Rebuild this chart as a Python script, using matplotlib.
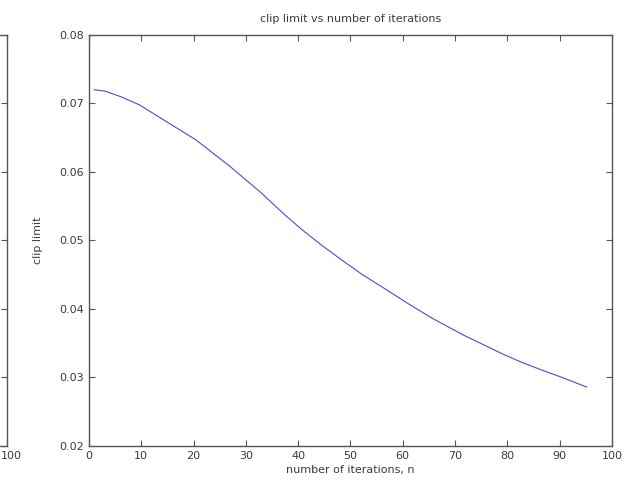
import matplotlib
matplotlib.use("Agg")
import matplotlib.pyplot as plt
from matplotlib.transforms import ScaledTranslation

# clip limit sampled over the iteration count
iterations = [1, 3, 6, 9.6, 15.3, 20.4, 26.8, 32.7, 37.5, 41, 44.5, 48.6, 52.5,
              56.9, 61, 65.5, 71.6, 79.2, 82.5, 86.2, 90.5, 95.2]
clip_limit = [0.0720, 0.0718, 0.0710, 0.0698, 0.0671, 0.0647, 0.0609, 0.0571, 0.0537,
              0.0514, 0.0493, 0.0470, 0.0449, 0.0428, 0.0408, 0.0387, 0.0362, 0.0334,
              0.0323, 0.0312, 0.0300, 0.0286]

x_ticks = [0, 10, 20, 30, 40, 50, 60, 70, 80, 90, 100]
y_ticks = [0.02, 0.03, 0.04, 0.05, 0.06, 0.07, 0.08]

plt.rcParams["font.family"] = ["DejaVu Sans"]
text_color = "#3a3a3a"
spine_color = "#555555"

fig = plt.figure(figsize=(6.36, 4.93), dpi=100)


def style_axes(ax):
    for sp in ax.spines.values():
        sp.set_color(spine_color)
        sp.set_linewidth(1.0)
    ax.tick_params(direction="in", length=4, width=0.8, color=spine_color,
                   labelsize=8, labelcolor=text_color, top=True, right=True)
    ax.set_xlim(0, 100)
    ax.set_ylim(0.02, 0.08)
    ax.set_xticks(x_ticks)
    ax.set_yticks(y_ticks)
    ax.set_yticklabels([f"{v:.2f}" for v in y_ticks])


# neighbouring panel, mostly outside the canvas
ax_left = fig.add_axes([-0.80, 0.0953, 0.811, 0.834])
style_axes(ax_left)
ax_left.set_yticklabels([])
ax_left.set_xticklabels(["" if t != 100 else "100" for t in x_ticks])
nudge = ScaledTranslation(3 / 72, 0, fig.dpi_scale_trans)
for lbl in ax_left.get_xticklabels():
    lbl.set_transform(lbl.get_transform() + nudge)

ax = fig.add_axes([0.140, 0.0953, 0.822, 0.834])
style_axes(ax)
ax.plot(iterations, clip_limit, color="#4b4bd2", linewidth=0.8)
ax.set_title("clip limit vs number of iterations", fontsize=8, color=text_color, pad=9)
ax.set_xlabel("number of iterations, n", fontsize=8, color=text_color, labelpad=3)
ax.set_ylabel("clip limit", fontsize=8, color=text_color, labelpad=12)

fig.savefig("out.png", dpi=100, facecolor="white")
